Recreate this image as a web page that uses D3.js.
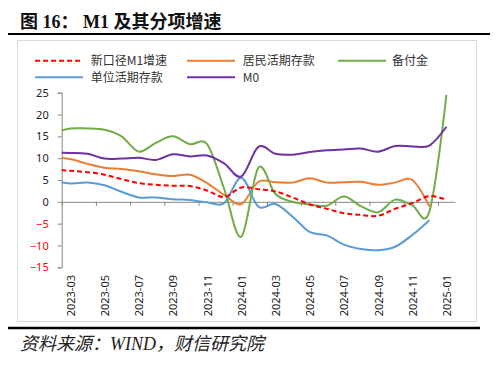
<!DOCTYPE html>
<html><head><meta charset="utf-8">
<script src="https://cdn.jsdelivr.net/npm/d3@7"></script>
<style>
html,body{margin:0;padding:0;background:#fff;}
svg{display:block;}
</style></head>
<body>
<svg id="chart" width="500" height="368"></svg>
<script>
// Month categories (first entry lies just left of the axis and is clipped)
const months = ["2023-02","2023-03","2023-04","2023-05","2023-06","2023-07","2023-08","2023-09","2023-10","2023-11","2023-12",
  "2024-01","2024-02","2024-03","2024-04","2024-05","2024-06","2024-07","2024-08","2024-09","2024-10","2024-11","2024-12","2025-01"];
const tickLabels = ["2023-03","2023-05","2023-07","2023-09","2023-11","2024-01","2024-03","2024-05","2024-07","2024-09","2024-11","2025-01"];
const yTicks = [-15,-10,-5,0,5,10,15,20,25];

const m1New     = [7.4, 7.1, 6.8, 6.2, 5.2, 4.3, 3.9, 3.7, 3.6, 2.6, 1.1, 3.3, 2.9, 2.4, 1.0, -0.6, -1.6, -2.6, -3.0, -3.2, -1.6, -0.3, 1.3, 0.5];
const household = [10.3, 9.8, 8.7, 7.8, 7.5, 7.0, 6.3, 5.9, 6.2, 4.3, 1.6, -0.5, 4.6, 4.5, 4.4, 5.4, 4.4, 4.5, 4.6, 3.9, 4.4, 5.0, -1.0, null];
const reserve   = [15.7, 16.8, 16.8, 16.5, 15.0, 11.5, 13.5, 15.0, 13.2, 13.2, 3.0, -8.0, 7.8, 1.8, 0.0, -0.6, -0.9, 1.2, -1.0, -2.4, 0.5, -0.8, -2.2, 24.5];
const corporate = [4.8, 4.2, 4.4, 3.8, 2.3, 1.0, 1.0, 0.6, 0.4, -0.1, -0.3, 5.5, -1.1, -0.5, -3.4, -6.9, -7.7, -9.8, -10.8, -11.1, -10.3, -7.6, -4.2, null];
const m0        = [11.2, 11.2, 11.0, 9.9, 9.9, 10.1, 9.6, 10.9, 10.4, 10.6, 8.8, 5.8, 12.6, 11.0, 10.8, 11.4, 11.8, 12.0, 12.2, 11.5, 12.8, 12.7, 12.9, 17.2];

const seriesNames = ["新口径M1增速","居民活期存款","备付金","单位活期存款","M0"];
const seriesColors = ["#FF0000","#ED7D31","#70AD47","#5B9BD5","#7030A0"];
const seriesData = [m1New, household, reserve, corporate, m0];

const svg = d3.select("#chart");
const CJK = "'Noto Sans CJK SC','Noto Sans',sans-serif";

// Title
svg.append("text").attr("x",20).attr("y",28)
  .attr("font-family","'Liberation Serif','Noto Sans CJK SC',serif")
  .attr("font-weight","bold").attr("font-size",18).attr("fill","#111")
  .text("图 16： M1 及其分项增速");
svg.append("line").attr("x1",8).attr("x2",490).attr("y1",34).attr("y2",34)
  .attr("stroke","#000").attr("stroke-width",2.2);

// chart border
svg.append("rect").attr("x",17.5).attr("y",40.5).attr("width",459).attr("height",281)
  .attr("fill","none").attr("stroke","#d9d9d9");

// Scales
const left = 61.7, right = 455;
const x = d3.scaleLinear().domain([0.5, months.length - 0.5]).range([left, right]);
const y = d3.scaleLinear().domain([-15, 25]).range([267.3, 92.7]);

// Y axis
const yAxis = svg.append("g").attr("transform",`translate(${left},0)`)
  .call(d3.axisLeft(y).tickValues(yTicks).tickSize(4).tickPadding(9).tickFormat(d3.format("d")));
yAxis.select(".domain").attr("stroke","#868686");
yAxis.selectAll(".tick line").attr("stroke","#868686");
yAxis.selectAll(".tick text").attr("font-family","'Noto Sans',sans-serif").attr("font-size",11)
  .attr("fill", d => d < 0 ? "#FF0000" : "#222");

// X axis (at zero), ticks at every second category boundary
const boundaries = d3.range(0.5, months.length, 2);
const xAxis = svg.append("g").attr("transform",`translate(0,${y(0)})`)
  .call(d3.axisBottom(x).tickValues(boundaries).tickSize(4).tickSizeOuter(0).tickFormat(""));
xAxis.select(".domain").attr("stroke","#868686");
xAxis.selectAll(".tick line").attr("stroke","#868686");

// X labels at bottom (low position), rotated
const labelIdx = tickLabels.map(l => months.indexOf(l));
const xLab = svg.append("g").attr("transform",`translate(0,275)`)
  .call(d3.axisBottom(x).tickValues(labelIdx).tickSize(0).tickFormat((d,i) => tickLabels[i]));
xLab.select(".domain").remove();
xLab.selectAll(".tick text")
  .attr("font-family","'Noto Sans',sans-serif").attr("font-size",11).attr("fill","#222")
  .attr("transform","rotate(-90)").attr("text-anchor","end")
  .attr("x",0).attr("y",0).attr("dy","0.36em");

// Clip
svg.append("clipPath").attr("id","plotclip").append("rect")
  .attr("x",left).attr("y",40).attr("width",right-left).attr("height",240);

const line = d3.line()
  .defined(d => d[1] != null)
  .x(d => x(d[0])).y(d => y(d[1]))
  .curve(d3.curveCatmullRom.alpha(0));

const plot = svg.append("g").attr("clip-path","url(#plotclip)");
// draw order: household, reserve, corporate, m0, then red dashed on top
[1,2,3,4,0].forEach(k => {
  plot.append("path")
    .datum(seriesData[k].map((v,i) => [i, v]))
    .attr("d", line).attr("fill","none")
    .attr("stroke", seriesColors[k]).attr("stroke-width", 2)
    .attr("stroke-dasharray", k === 0 ? "5,3" : null)
    .attr("stroke-linejoin","round");
});

// Legend
const legendPos = [[35,60.7],[187,60.7],[338,60.7],[35,77.3],[187,77.3]];
seriesNames.forEach((name,k) => {
  const [lx,ly] = legendPos[k];
  svg.append("line").attr("x1",lx).attr("x2",lx+48).attr("y1",ly).attr("y2",ly)
    .attr("stroke",seriesColors[k]).attr("stroke-width",2)
    .attr("stroke-dasharray", k===0 ? "5,3" : null);
  svg.append("text").attr("x", k===2 ? lx+54 : lx+55.7).attr("y",ly).attr("dy","0.36em")
    .attr("font-family",CJK).attr("font-size",12).attr("fill","#333").text(name);
});

// Bottom rule & source
svg.append("line").attr("x1",8).attr("x2",480).attr("y1",328).attr("y2",328)
  .attr("stroke","#000").attr("stroke-width",2.5);
svg.append("text").attr("x",20).attr("y",350)
  .attr("font-family","'Liberation Serif','Noto Sans CJK SC',serif")
  .attr("font-style","italic").attr("font-size",18).attr("fill","#222")
  .text("资料来源：WIND，财信研究院");
</script>
</body></html>
